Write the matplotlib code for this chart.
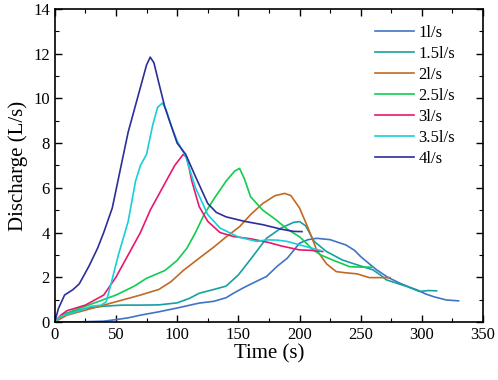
import numpy as np
import matplotlib.pyplot as plt

plt.rcParams['font.family'] = ['Liberation Serif', 'DejaVu Serif']

# hydrographs: time (s), discharge (L/s)
t_1 = [0, 20, 40, 50, 60, 70, 85, 100, 118, 130, 140, 146, 155, 165, 173, 182, 190, 200, 207, 214, 225, 238, 245, 250, 257, 263, 272, 282, 290, 296, 303, 310, 320, 330]
q_1 = [0, 0.0, 0.03, 0.1, 0.18, 0.3, 0.45, 0.62, 0.84, 0.92, 1.08, 1.28, 1.55, 1.82, 2.03, 2.5, 2.85, 3.52, 3.68, 3.74, 3.68, 3.44, 3.2, 2.92, 2.6, 2.33, 2.0, 1.73, 1.55, 1.43, 1.25, 1.12, 0.98, 0.94]

t_15 = [0, 5, 10, 25, 40, 55, 70, 85, 100, 110, 118, 130, 140, 150, 160, 173, 185, 195, 200, 205, 212, 222, 235, 250, 260, 266, 271, 280, 288, 298, 305, 312]
q_15 = [0, 0.25, 0.4, 0.6, 0.7, 0.75, 0.75, 0.76, 0.85, 1.05, 1.28, 1.45, 1.6, 2.1, 2.8, 3.74, 4.2, 4.45, 4.49, 4.3, 3.6, 3.15, 2.77, 2.5, 2.33, 2.1, 1.88, 1.72, 1.58, 1.36, 1.4, 1.39]

t_2 = [0, 10, 30, 50, 70, 85, 95, 105, 118, 130, 140, 151, 160, 170, 180, 188, 193, 200, 207, 214, 222, 230, 237, 247, 257, 265, 274]
q_2 = [0, 0.3, 0.6, 0.9, 1.2, 1.45, 1.8, 2.3, 2.85, 3.35, 3.8, 4.26, 4.8, 5.3, 5.65, 5.75, 5.65, 5.1, 4.2, 3.22, 2.6, 2.25, 2.2, 2.15, 1.98, 1.98, 1.98]

t_25 = [0, 5, 15, 30, 50, 65, 75, 90, 100, 108, 115, 122, 130, 140, 147, 151, 155, 160, 170, 181, 190, 200, 206, 211, 218, 227, 235, 241, 250, 260]
q_25 = [0, 0.25, 0.5, 0.8, 1.2, 1.6, 1.95, 2.3, 2.75, 3.3, 4.0, 4.8, 5.5, 6.3, 6.75, 6.87, 6.4, 5.6, 5.0, 4.56, 4.15, 3.81, 3.5, 3.22, 2.98, 2.77, 2.6, 2.47, 2.45, 2.45]

t_3 = [0, 5, 10, 25, 40, 50, 60, 70, 78, 88, 98, 105, 108, 112, 118, 125, 135, 146, 160, 175, 185, 200, 210, 219]
q_3 = [0, 0.3, 0.5, 0.75, 1.2, 2.0, 3.0, 4.0, 5.0, 6.0, 7.0, 7.5, 7.35, 6.3, 5.16, 4.5, 4.0, 3.82, 3.72, 3.55, 3.4, 3.22, 3.2, 3.15]

t_35 = [0, 5, 20, 30, 38, 42, 45, 52, 60, 66, 70, 75, 80, 84, 88, 91, 95, 100, 107, 115, 125, 135, 150, 165, 173, 182, 190, 200, 210, 217]
q_35 = [0, 0.25, 0.5, 0.7, 0.75, 0.9, 1.5, 3.0, 4.5, 6.3, 7.0, 7.5, 8.8, 9.6, 9.8, 9.5, 8.8, 8.1, 7.4, 6.0, 4.8, 4.2, 3.8, 3.6, 3.67, 3.66, 3.6, 3.45, 3.3, 3.2]

t_4 = [0, 3, 8, 15, 20, 28, 35, 40, 47, 55, 60, 65, 70, 75, 78, 81, 85, 90, 95, 100, 107, 115, 125, 132, 140, 155, 170, 185, 195, 202]
q_4 = [0, 0.6, 1.2, 1.45, 1.7, 2.5, 3.3, 4.0, 5.1, 7.2, 8.5, 9.5, 10.5, 11.5, 11.85, 11.6, 10.7, 9.6, 8.8, 8.0, 7.5, 6.5, 5.3, 4.9, 4.7, 4.5, 4.35, 4.15, 4.05, 4.04]

series = [
    (t_1, q_1, '1l/s', '#3f74c6'),
    (t_15, q_15, '1.5l/s', '#16a0a0'),
    (t_2, q_2, '2l/s', '#c26a22'),
    (t_25, q_25, '2.5l/s', '#10cc50'),
    (t_3, q_3, '3l/s', '#e8186e'),
    (t_35, q_35, '3.5l/s', '#18cfd8'),
    (t_4, q_4, '4l/s', '#2b2f98'),
]

fig = plt.figure(figsize=(4.98, 3.80), dpi=100)
ax = fig.add_axes([0.110, 0.153, 0.860, 0.823])

for t, q, lab, c in series:
    ax.plot(t, q, color=c, lw=1.2, label=lab)

ax.set_xlim(0, 350)
ax.set_ylim(0, 14)
ax.set_xticks(np.arange(0, 351, 50))
ax.set_yticks(np.arange(0, 15, 2))
ax.set_xticks(np.arange(0, 351, 25), minor=True)
ax.set_yticks(np.arange(0, 15, 1), minor=True)
ax.tick_params(which='both', direction='in', top=True, right=True, labelsize=12)
ax.tick_params(which='major', length=5, width=1)
ax.tick_params(which='minor', length=3, width=0.8)
for s in ax.spines.values():
    s.set_linewidth(1.2)

ax.set_xlabel('Time (s)', fontsize=15, labelpad=1)
ax.set_ylabel('Discharge (L/s)', fontsize=15, labelpad=4)

ax.legend(loc='upper left', frameon=False, fontsize=12, handlelength=2.35,
          handletextpad=0.25, labelspacing=0.3, borderpad=0, borderaxespad=0,
          bbox_to_anchor=(0.748, 0.95))

fig.savefig('out.png', dpi=100)
